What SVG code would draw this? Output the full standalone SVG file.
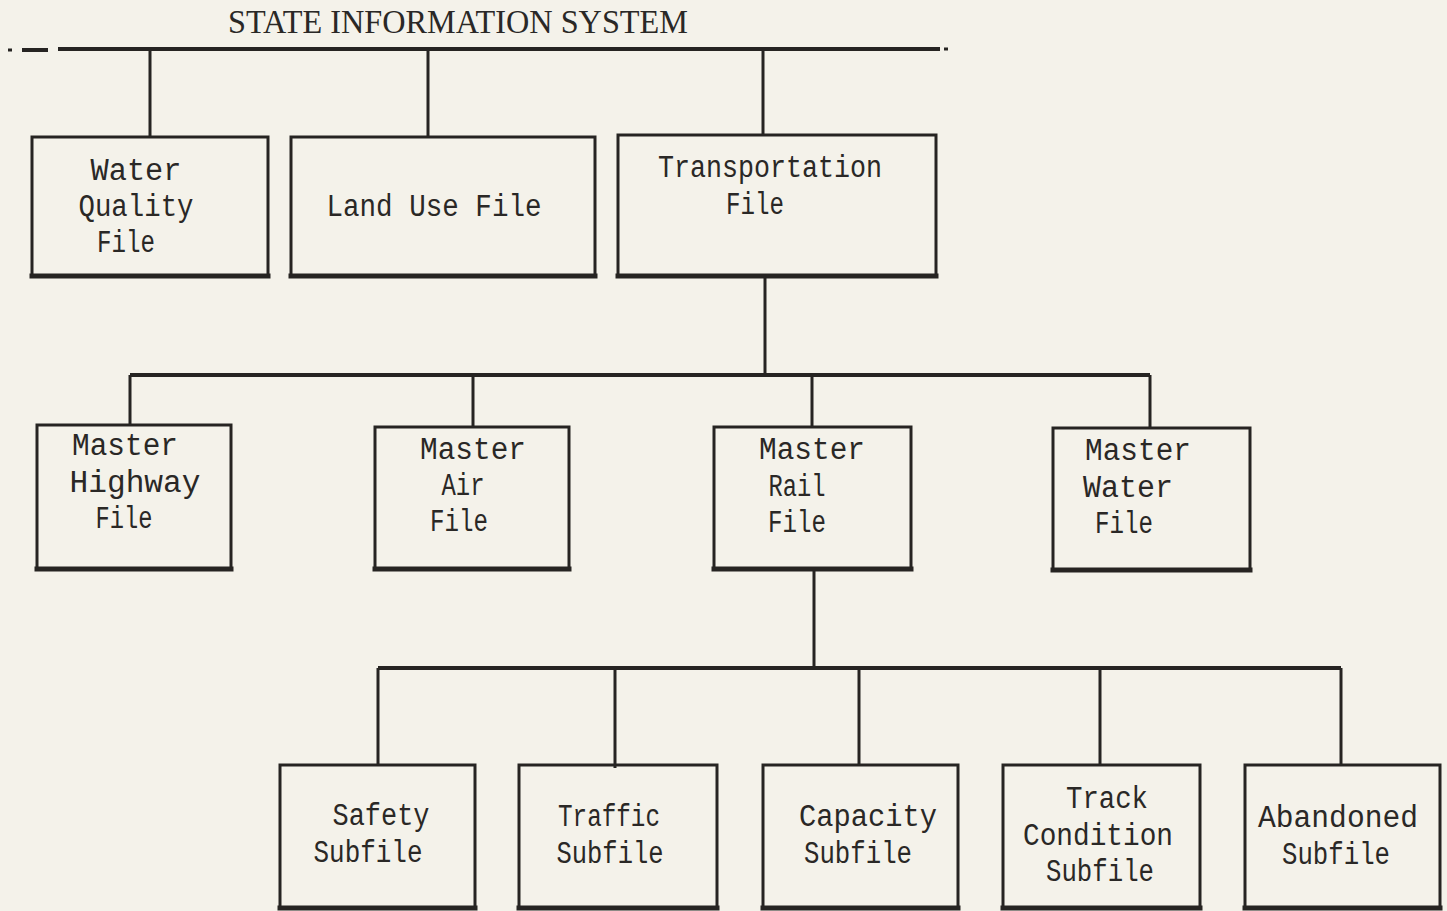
<svg xmlns="http://www.w3.org/2000/svg" width="1447" height="911" viewBox="0 0 1447 911">
<style>
.box{fill:none;stroke:#262422;stroke-width:3}
.bot{stroke:#262422;stroke-width:5;stroke-linecap:square}
.ln{stroke:#262422;stroke-width:3;fill:none}
.t{font-family:"Liberation Mono","DejaVu Sans Mono",monospace;font-size:31px;fill:#2a2826;text-anchor:middle}
.title{font-family:"Liberation Serif","Times New Roman",serif;font-size:33px;fill:#2a2826}
</style>
<rect width="1447" height="911" fill="#f4f2ea"/>
<text class="title" x="228" y="33" textLength="460" lengthAdjust="spacingAndGlyphs">STATE INFORMATION SYSTEM</text>
<g id="connectors">
<line class="ln" x1="8" y1="50" x2="12" y2="50"/>
<line class="ln" x1="22" y1="50" x2="48" y2="50" style="stroke-width:4"/>
<line class="ln" x1="58" y1="49" x2="940" y2="49" style="stroke-width:4"/>
<line class="ln" x1="944" y1="49" x2="948" y2="49"/>
<line class="ln" x1="150" y1="49" x2="150" y2="137"/>
<line class="ln" x1="428" y1="49" x2="428" y2="137"/>
<line class="ln" x1="763" y1="49" x2="763" y2="135"/>
<line class="ln" x1="765" y1="276" x2="765" y2="375"/>
<line class="ln" x1="130" y1="375" x2="1150" y2="375" style="stroke-width:4"/>
<line class="ln" x1="130" y1="375" x2="130" y2="425"/>
<line class="ln" x1="473" y1="375" x2="473" y2="427"/>
<line class="ln" x1="812" y1="375" x2="812" y2="427"/>
<line class="ln" x1="1150" y1="375" x2="1150" y2="428"/>
<line class="ln" x1="814" y1="569" x2="814" y2="668"/>
<line class="ln" x1="378" y1="668" x2="1341" y2="668" style="stroke-width:4"/>
<line class="ln" x1="378" y1="668" x2="378" y2="765"/>
<line class="ln" x1="615" y1="668" x2="615" y2="768"/>
<line class="ln" x1="859" y1="668" x2="859" y2="765"/>
<line class="ln" x1="1100" y1="668" x2="1100" y2="765"/>
<line class="ln" x1="1341" y1="668" x2="1341" y2="765"/>
</g>
<g id="water-quality">
<rect class="box" x="32" y="137" width="236" height="139"/>
<line class="bot" x1="32" y1="276" x2="268" y2="276"/>
<text class="t" x="136" y="180" textLength="91" lengthAdjust="spacingAndGlyphs">Water</text>
<text class="t" x="136" y="216" textLength="115" lengthAdjust="spacingAndGlyphs">Quality</text>
<text class="t" x="126" y="252" textLength="58" lengthAdjust="spacingAndGlyphs">File</text>
</g>
<g id="land-use">
<rect class="box" x="291" y="137" width="304" height="139"/>
<line class="bot" x1="291" y1="276" x2="595" y2="276"/>
<text class="t" x="434" y="216" textLength="215" lengthAdjust="spacingAndGlyphs">Land Use File</text>
</g>
<g id="transportation">
<rect class="box" x="618" y="135" width="318" height="141"/>
<line class="bot" x1="618" y1="276" x2="936" y2="276"/>
<text class="t" x="770" y="177" textLength="224" lengthAdjust="spacingAndGlyphs">Transportation</text>
<text class="t" x="755" y="214" textLength="58" lengthAdjust="spacingAndGlyphs">File</text>
</g>
<g id="master-highway">
<rect class="box" x="37" y="425" width="194" height="144"/>
<line class="bot" x1="37" y1="569" x2="231" y2="569"/>
<text class="t" x="125" y="455" textLength="106" lengthAdjust="spacingAndGlyphs">Master</text>
<text class="t" x="135" y="492" textLength="131" lengthAdjust="spacingAndGlyphs">Highway</text>
<text class="t" x="124" y="528" textLength="57" lengthAdjust="spacingAndGlyphs">File</text>
</g>
<g id="master-air">
<rect class="box" x="375" y="427" width="194" height="142"/>
<line class="bot" x1="375" y1="569" x2="569" y2="569"/>
<text class="t" x="473" y="459" textLength="106" lengthAdjust="spacingAndGlyphs">Master</text>
<text class="t" x="463" y="495" textLength="43" lengthAdjust="spacingAndGlyphs">Air</text>
<text class="t" x="459" y="531" textLength="58" lengthAdjust="spacingAndGlyphs">File</text>
</g>
<g id="master-rail">
<rect class="box" x="714" y="427" width="197" height="142"/>
<line class="bot" x1="714" y1="569" x2="911" y2="569"/>
<text class="t" x="812" y="459" textLength="106" lengthAdjust="spacingAndGlyphs">Master</text>
<text class="t" x="797" y="496" textLength="57" lengthAdjust="spacingAndGlyphs">Rail</text>
<text class="t" x="797" y="532" textLength="58" lengthAdjust="spacingAndGlyphs">File</text>
</g>
<g id="master-water">
<rect class="box" x="1053" y="428" width="197" height="142"/>
<line class="bot" x1="1053" y1="570" x2="1250" y2="570"/>
<text class="t" x="1138" y="460" textLength="106" lengthAdjust="spacingAndGlyphs">Master</text>
<text class="t" x="1128" y="497" textLength="90" lengthAdjust="spacingAndGlyphs">Water</text>
<text class="t" x="1124" y="533" textLength="58" lengthAdjust="spacingAndGlyphs">File</text>
</g>
<g id="safety">
<rect class="box" x="280" y="765" width="195" height="143"/>
<line class="bot" x1="280" y1="908" x2="475" y2="908"/>
<text class="t" x="381" y="825" textLength="97" lengthAdjust="spacingAndGlyphs">Safety</text>
<text class="t" x="368" y="862" textLength="109" lengthAdjust="spacingAndGlyphs">Subfile</text>
</g>
<g id="traffic">
<rect class="box" x="519" y="765" width="198" height="143"/>
<line class="bot" x1="519" y1="908" x2="717" y2="908"/>
<text class="t" x="609" y="826" textLength="102" lengthAdjust="spacingAndGlyphs">Traffic</text>
<text class="t" x="610" y="863" textLength="107" lengthAdjust="spacingAndGlyphs">Subfile</text>
</g>
<g id="capacity">
<rect class="box" x="763" y="765" width="195" height="143"/>
<line class="bot" x1="763" y1="908" x2="958" y2="908"/>
<text class="t" x="868" y="826" textLength="138" lengthAdjust="spacingAndGlyphs">Capacity</text>
<text class="t" x="858" y="863" textLength="108" lengthAdjust="spacingAndGlyphs">Subfile</text>
</g>
<g id="track-condition">
<rect class="box" x="1003" y="765" width="197" height="143"/>
<line class="bot" x1="1003" y1="908" x2="1200" y2="908"/>
<text class="t" x="1107" y="808" textLength="82" lengthAdjust="spacingAndGlyphs">Track</text>
<text class="t" x="1098" y="845" textLength="150" lengthAdjust="spacingAndGlyphs">Condition</text>
<text class="t" x="1100" y="881" textLength="108" lengthAdjust="spacingAndGlyphs">Subfile</text>
</g>
<g id="abandoned">
<rect class="box" x="1245" y="765" width="195" height="143"/>
<line class="bot" x1="1245" y1="908" x2="1440" y2="908"/>
<text class="t" x="1338" y="827" textLength="160" lengthAdjust="spacingAndGlyphs">Abandoned</text>
<text class="t" x="1336" y="864" textLength="108" lengthAdjust="spacingAndGlyphs">Subfile</text>
</g>
</svg>
